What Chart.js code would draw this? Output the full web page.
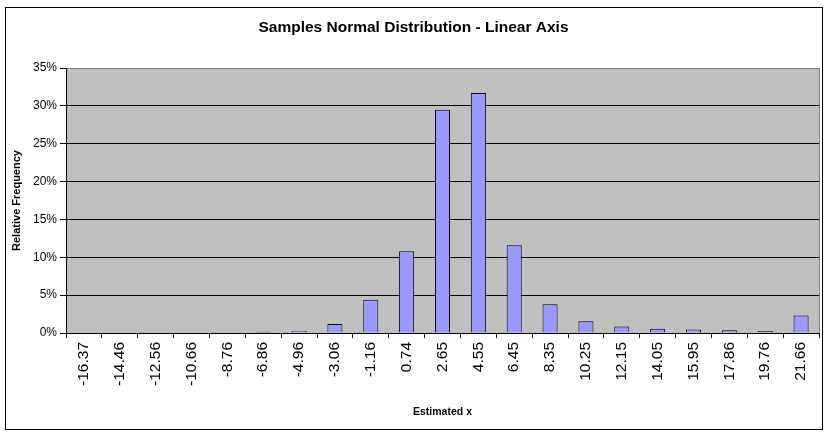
<!DOCTYPE html>
<html>
<head>
<meta charset="utf-8">
<script src="https://cdn.jsdelivr.net/npm/chart.js@4/dist/chart.umd.min.js"></script>
<style>
  html, body { margin: 0; padding: 0; background: #fff; }
  #wrap { width: 824px; height: 436px; }
</style>
</head>
<body>
<div id="wrap"><canvas id="histChart" width="824" height="436"></canvas></div>
<script>
// bins (estimated x) and relative frequency in percent
const binLabels = ["-16.37","-14.46","-12.56","-10.66","-8.76","-6.86","-4.96","-3.06","-1.16","0.74",
                   "2.65","4.55","6.45","8.35","10.25","12.15","14.05","15.95","17.86","19.76","21.66"];
const relFreq = [0.08, 0, 0.08, 0.08, 0.08, 0.15, 0.3, 1.2, 4.4, 10.8,
                 29.5, 31.7, 11.6, 3.8, 1.55, 0.85, 0.55, 0.45, 0.35, 0.25, 2.3];
const yTicks = [0, 5, 10, 15, 20, 25, 30, 35];

const FONT = "'Liberation Sans', Arial, sans-serif";

// grey plot area + outer frame
const frame = {
    id: "frame",
    beforeDraw(chart) {
        const ctx = chart.ctx;
        const a = chart.chartArea;
        ctx.save();
        ctx.fillStyle = "#fff";
        ctx.fillRect(0, 0, chart.width, chart.height);
        ctx.strokeStyle = "#000";
        ctx.lineWidth = 1;
        ctx.strokeRect(5.5, 7.5, 817, 422);
        ctx.fillStyle = "#c0c0c0";
        ctx.fillRect(a.left, a.top, a.right - a.left, a.bottom - a.top);
        ctx.strokeStyle = "#808080";
        ctx.strokeRect(Math.round(a.left) + 0.5, Math.round(a.top) + 0.5,
                       Math.round(a.right - a.left), Math.round(a.bottom - a.top));
        ctx.restore();
    }
};

new Chart(document.getElementById("histChart"), {
    type: "bar",
    data: {
        labels: binLabels,
        datasets: [{
            label: "Relative Frequency",
            data: relFreq,
            backgroundColor: "#9999ff",
            borderColor: "#000",
            borderWidth: 1,
            categoryPercentage: 1,
            barPercentage: 0.42
        }]
    },
    options: {
        responsive: false,
        animation: false,
        devicePixelRatio: 1,
        layout: {padding: {left: 8, right: 5, top: 0, bottom: 8}},
        plugins: {
            legend: {display: false},
            tooltip: {enabled: false},
            title: {
                display: true,
                text: "Samples Normal Distribution - Linear Axis",
                color: "#000",
                font: {family: FONT, size: 15.5, weight: "bold"},
                padding: {top: 18, bottom: 31.4}
            }
        },
        scales: {
            x: {
                offset: true,
                grid: {display: true, drawOnChartArea: false, drawTicks: true, tickLength: 5, color: "#000", offset: true},
                border: {display: true, color: "#000"},
                ticks: {
                    color: "#000", font: {family: FONT, size: 15.5},
                    minRotation: 90, maxRotation: 90, autoSkip: false, padding: 4
                },
                title: {display: true, text: "Estimated x", color: "#000",
                        font: {family: FONT, size: 10.5, weight: "bold"}, padding: {top: 4, bottom: 10}},
                afterFit(scale) { scale.height = 95; }
            },
            y: {
                min: 0, max: 35,
                afterBuildTicks(scale) { scale.ticks = yTicks.map(v => ({value: v})); },
                grid: {
                    color: c => (c.tick && c.tick.value === 35) ? "#808080" : "#000",
                    tickColor: "#000", tickLength: 6, drawTicks: true
                },
                border: {display: true, color: "#000"},
                ticks: {color: "#000", font: {family: FONT, size: 12}, padding: 3,
                        callback: v => v + "%"},
                title: {display: true, text: "Relative Frequency", color: "#000",
                        font: {family: FONT, size: 11, weight: "bold"}, padding: 2},
                afterFit(scale) { scale.width = 58; }
            }
        }
    },
    plugins: [frame]
});
</script>
</body>
</html>
